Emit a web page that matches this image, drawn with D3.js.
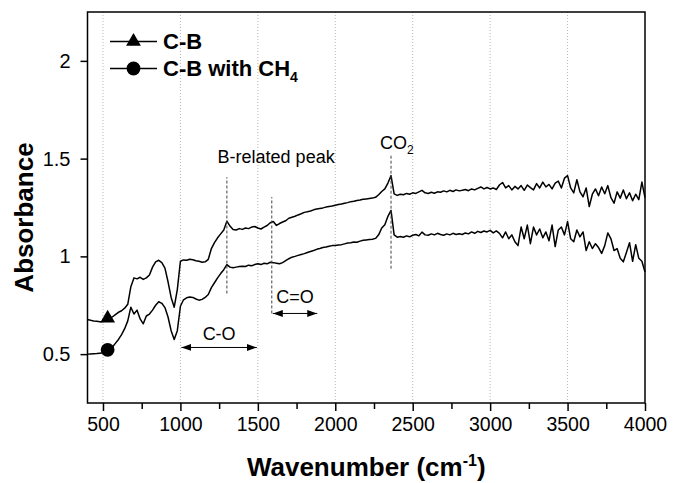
<!DOCTYPE html>
<html>
<head>
<meta charset="utf-8">
<script src="https://cdn.jsdelivr.net/npm/d3@7"></script>
<style>
  body { margin: 0; background: #fff; }
  text { font-family: "Liberation Sans", Arial, sans-serif; fill: #000; }
</style>
</head>
<body>
<div id="chart"></div>
<script>
// Step 1: data
//=================================
// sampling grid of the spectra, 400..4000 cm-1 every 20
var wavenumber = d3.range(400, 4001, 20);

// C-B (rows of 10 points = 200 cm-1 each)
var absCB = [
  0.677, 0.673, 0.670, 0.668, 0.666, 0.667, 0.672, 0.680, 0.690, 0.702,
  0.714, 0.722, 0.735, 0.755, 0.845, 0.890, 0.885, 0.893, 0.882, 0.890,
  0.905, 0.945, 0.972, 0.980, 0.968, 0.940, 0.870, 0.790, 0.740, 0.830,
  0.975, 0.982, 0.980, 0.985, 0.983, 0.978, 0.975, 0.970, 0.972, 0.985,
  1.040, 1.070, 1.095, 1.115, 1.135, 1.180, 1.155, 1.138, 1.135, 1.142,
  1.138, 1.145, 1.142, 1.150, 1.153, 1.145, 1.140, 1.150, 1.158, 1.172,
  1.178, 1.158, 1.168, 1.176, 1.182, 1.195, 1.200, 1.205, 1.212, 1.218,
  1.225, 1.228, 1.232, 1.238, 1.242, 1.245, 1.248, 1.252, 1.255, 1.258,
  1.262, 1.265, 1.268, 1.272, 1.275, 1.280, 1.282, 1.286, 1.288, 1.292,
  1.294, 1.296, 1.298, 1.302, 1.315, 1.332, 1.345, 1.375, 1.413, 1.320,
  1.312, 1.318, 1.315, 1.322, 1.318, 1.325, 1.322, 1.330, 1.338, 1.325,
  1.322, 1.328, 1.323, 1.330, 1.328, 1.335, 1.330, 1.338, 1.332, 1.340,
  1.335, 1.338, 1.342, 1.336, 1.345, 1.340, 1.348, 1.355, 1.345, 1.352,
  1.345, 1.350, 1.342, 1.365, 1.378, 1.350, 1.362, 1.340, 1.358, 1.345,
  1.362, 1.338, 1.365, 1.352, 1.340, 1.372, 1.350, 1.380, 1.355, 1.368,
  1.345, 1.375, 1.385, 1.350, 1.400, 1.413, 1.350, 1.325, 1.392, 1.330,
  1.305, 1.350, 1.255, 1.318, 1.345, 1.310, 1.355, 1.320, 1.362, 1.300,
  1.272, 1.330, 1.298, 1.340, 1.295, 1.325, 1.285, 1.318, 1.290, 1.380,
  1.300
];

// C-B with CH4
var absCBCH4 = [
  0.500, 0.501, 0.502, 0.503, 0.505, 0.507, 0.512, 0.522, 0.535, 0.555,
  0.575, 0.600, 0.630, 0.670, 0.740, 0.705, 0.725, 0.680, 0.655, 0.695,
  0.705, 0.725, 0.750, 0.768, 0.760, 0.738, 0.690, 0.620, 0.575, 0.620,
  0.745, 0.778, 0.788, 0.792, 0.790, 0.782, 0.776, 0.780, 0.790, 0.805,
  0.840, 0.865, 0.890, 0.912, 0.932, 0.958, 0.945, 0.942, 0.945, 0.948,
  0.950, 0.948, 0.955, 0.952, 0.958, 0.962, 0.958, 0.965, 0.962, 0.970,
  0.968, 0.965, 0.962, 0.968, 0.978, 0.988, 0.996, 1.000, 1.005, 1.010,
  1.014, 1.020, 1.025, 1.030, 1.036, 1.040, 1.045, 1.048, 1.052, 1.055,
  1.056, 1.058, 1.060, 1.064, 1.068, 1.070, 1.074, 1.072, 1.078, 1.082,
  1.084, 1.086, 1.088, 1.092, 1.110, 1.145, 1.162, 1.205, 1.235, 1.110,
  1.098, 1.102, 1.098, 1.105, 1.100, 1.108, 1.112, 1.105, 1.124, 1.110,
  1.108, 1.115, 1.110, 1.118, 1.112, 1.108, 1.115, 1.110, 1.118, 1.112,
  1.116, 1.112, 1.120, 1.115, 1.125, 1.118, 1.128, 1.122, 1.130, 1.125,
  1.133, 1.120, 1.130, 1.118, 1.095, 1.125, 1.090, 1.110, 1.075, 1.055,
  1.150, 1.090, 1.160, 1.065, 1.150, 1.110, 1.140, 1.095, 1.125, 1.080,
  1.160, 1.050, 1.135, 1.150, 1.110, 1.178, 1.090, 1.075, 1.135, 1.100,
  1.125, 1.030, 1.075, 1.040, 1.065, 1.045, 1.015, 1.055, 1.120, 1.090,
  1.030, 1.040, 0.990, 0.972, 1.020, 1.070, 0.975, 1.060, 0.990, 0.975,
  0.920
];

var seriesNames = ["C-B", "C-B with CH4"];
var markerWn = 530;
var markerAbs = [0.683, 0.522];

var xTicks = [500, 1000, 1500, 2000, 2500, 3000, 3500, 4000];
var xMinorTicks = [750, 1250, 1750, 2250, 2750, 3250, 3750];
var yTicks = [0.5, 1, 1.5, 2];
var gridLines = [500, 1000, 1500, 2000, 2500, 3000, 3500];

// dashed peak markers and range arrows (data units)
var peakLines = [
  { wn: 1300, from: 0.81, to: 1.405 },
  { wn: 1590, from: 0.708, to: 1.303 },
  { wn: 2360, from: 0.937, to: 1.515 }
];
var rangeArrows = [
  { label: "C-O", from: 1000, to: 1500, at: 0.534, labelAt: 0.571 },
  { label: "C=O", from: 1590, to: 1890, at: 0.708, labelAt: 0.760 }
];

// Step 2: chart frame
//=================================
var svg_width = 673;
var svg_height = 483;
var margin = { top: 12, right: 28, bottom: 80, left: 87.5 };
var width = svg_width - margin.left - margin.right;
var height = svg_height - margin.top - margin.bottom;

var svg = d3.select("#chart").append("svg")
  .attr("width", svg_width)
  .attr("height", svg_height);

var defs = svg.append("defs");
defs.append("marker")
  .attr("id", "arrow")
  .attr("viewBox", "0 0 10 7")
  .attr("refX", 10).attr("refY", 3.5)
  .attr("markerWidth", 10).attr("markerHeight", 7)
  .attr("markerUnits", "userSpaceOnUse")
  .attr("orient", "auto-start-reverse")
  .append("path")
  .attr("d", "M0,0 L10,3.5 L0,7 Z")
  .attr("fill", "#000");

var chartGroup = svg.append("g")
  .attr("transform", `translate(${margin.left}, ${margin.top})`);

var x = d3.scaleLinear().domain([400, 4000]).range([0, width]);
var y = d3.scaleLinear().domain([0.25, 2.25]).range([height, 0]);

// vertical dotted grid
chartGroup.selectAll(".grid").data(gridLines).enter()
  .append("line")
  .attr("class", "grid")
  .attr("x1", d => x(d)).attr("x2", d => x(d))
  .attr("y1", 0).attr("y2", height)
  .attr("stroke", "#b5b5b5")
  .attr("stroke-width", 1)
  .attr("stroke-dasharray", "1,2");

// axes
var bottomAxis = d3.axisBottom(x).tickValues(xTicks).tickSize(8).tickPadding(6)
  .tickFormat(d3.format("d"));
var minorAxis = d3.axisBottom(x).tickValues(xMinorTicks).tickSize(6).tickFormat("");
var leftAxis = d3.axisLeft(y).tickValues(yTicks).tickSize(7).tickPadding(10)
  .tickFormat(d => String(d));

var gx = chartGroup.append("g")
  .attr("transform", `translate(0, ${height})`)
  .call(bottomAxis);
var gxm = chartGroup.append("g")
  .attr("transform", `translate(0, ${height})`)
  .call(minorAxis);
var gy = chartGroup.append("g").call(leftAxis);

[gx, gxm, gy].forEach(function(g) {
  g.select(".domain").remove();
  g.selectAll("line").attr("stroke", "#000").attr("stroke-width", 1.5);
  g.selectAll("text")
    .style("font-family", "'Liberation Sans', Arial, sans-serif")
    .style("font-size", "19.5px")
    .attr("fill", "#000");
});
gy.selectAll("text").style("font-size", "20px");

// Step 3: spectra
//=================================
var line = d3.line()
  .x((d, i) => x(wavenumber[i]))
  .y(d => y(d));

chartGroup.selectAll(".spectrum").data([absCB, absCBCH4]).enter()
  .append("path")
  .attr("class", "spectrum")
  .attr("d", line)
  .attr("fill", "none")
  .attr("stroke", "#000")
  .attr("stroke-width", 1.5)
  .attr("stroke-linejoin", "round");

var triangle = d3.symbol().type(d3.symbolTriangle).size(95);
var circle = d3.symbol().type(d3.symbolCircle).size(150);

chartGroup.append("path")
  .attr("d", triangle())
  .attr("transform", `translate(${x(markerWn)}, ${y(markerAbs[0])})`);
chartGroup.append("path")
  .attr("d", circle())
  .attr("transform", `translate(${x(markerWn)}, ${y(markerAbs[1])})`);

// frame on top
chartGroup.append("rect")
  .attr("width", width).attr("height", height)
  .attr("fill", "none").attr("stroke", "#000").attr("stroke-width", 1.5);

// Step 4: annotations
//=================================
chartGroup.selectAll(".peak").data(peakLines).enter()
  .append("line")
  .attr("x1", d => x(d.wn)).attr("x2", d => x(d.wn))
  .attr("y1", d => y(d.from)).attr("y2", d => y(d.to))
  .attr("stroke", "#444")
  .attr("stroke-width", 1)
  .attr("stroke-dasharray", "3,2");

chartGroup.append("text")
  .attr("x", x(1240)).attr("y", y(1.476))
  .style("font-size", "18px")
  .text("B-related peak");

var co2 = chartGroup.append("text")
  .attr("x", x(2289)).attr("y", y(1.549))
  .style("font-size", "18px");
co2.append("tspan").text("CO");
co2.append("tspan").attr("dy", 5).style("font-size", "12px").text("2");

chartGroup.selectAll(".range").data(rangeArrows).enter()
  .append("line")
  .attr("x1", d => x(d.from) + 1).attr("x2", d => x(d.to) - 1)
  .attr("y1", d => y(d.at)).attr("y2", d => y(d.at))
  .attr("stroke", "#000").attr("stroke-width", 1)
  .attr("marker-start", "url(#arrow)")
  .attr("marker-end", "url(#arrow)");

chartGroup.selectAll(".rangeLabel").data(rangeArrows).enter()
  .append("text")
  .attr("x", d => x((d.from + d.to) / 2))
  .attr("y", d => y(d.labelAt))
  .attr("text-anchor", "middle")
  .style("font-size", "18px")
  .text(d => d.label);

// legend
var legend = svg.append("g").attr("transform", "translate(110, 0)");
var rows = legend.selectAll(".row").data(seriesNames).enter()
  .append("g")
  .attr("transform", (d, i) => `translate(0, ${41.5 + i * 27})`);
rows.append("line")
  .attr("x1", 0).attr("x2", 47)
  .attr("stroke", "#000").attr("stroke-width", 1.5);
rows.append("path")
  .attr("d", (d, i) => i === 0 ? triangle() : circle())
  .attr("transform", "translate(23.5, 0)");
var labels = rows.append("text")
  .attr("x", 53).attr("y", 7.5)
  .style("font-size", "22px")
  .style("font-weight", "bold");
labels.append("tspan").text(d => d.replace("CH4", "CH"));
labels.filter(d => d.indexOf("CH4") >= 0)
  .append("tspan").attr("dy", 6).style("font-size", "14px").text("4");

// axis titles
svg.append("text")
  .attr("transform", `translate(33, ${margin.top + height / 2 + 10}) rotate(-90)`)
  .attr("text-anchor", "middle")
  .style("font-size", "26px")
  .style("font-weight", "bold")
  .text("Absorbance");

var xt = svg.append("text")
  .attr("x", margin.left + width / 2)
  .attr("y", 476)
  .attr("text-anchor", "middle")
  .style("font-size", "26px")
  .style("font-weight", "bold");
xt.append("tspan").text("Wavenumber (cm");
xt.append("tspan").attr("dy", -10).style("font-size", "16px").text("-1");
xt.append("tspan").attr("dy", 10).text(")");
</script>
</body>
</html>
